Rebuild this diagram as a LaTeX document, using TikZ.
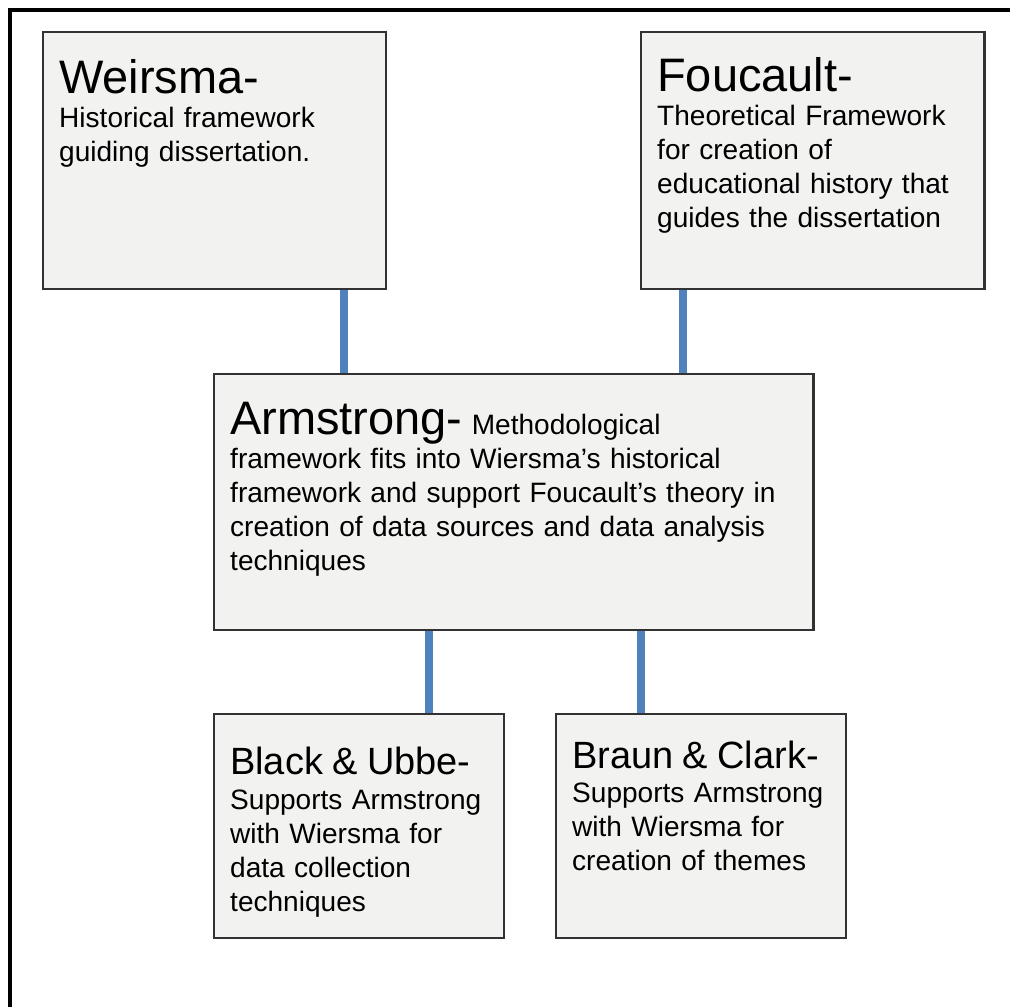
\documentclass[tikz,border=0pt]{standalone}
\usepackage{fontspec}
\setmainfont{Liberation Sans}
\usepackage{tikz}
\usetikzlibrary{positioning, calc}
\usepackage{xcolor}
\definecolor{linkblue}{RGB}{79,129,189}
\definecolor{boxfill}{RGB}{242,242,241}
\definecolor{boxline}{RGB}{50,50,50}
\newcommand{\bigname}[1]{{\fontsize{33.4}{40}\selectfont #1}}
\newcommand{\smallname}[1]{{\fontsize{27}{32}\selectfont #1}}

\begin{document}
\begin{tikzpicture}[x=0.025cm, y=-0.025cm,
    font=\fontsize{19.95}{24.2}\selectfont,
    card/.style={draw=boxline, fill=boxfill, line width=0.06cm, align=left,
                 anchor=north west, inner xsep=0.4cm, inner ysep=0pt},
    link/.style={draw=linkblue, line width=0.2cm}]
  \useasboundingbox (0,0) rectangle (1010,1006);
  % the frame round the page
  \draw[line width=0.08cm] (10,1010) -- (10,10) -- (1015,10);
  % top row
  \node[card, text width=7.775cm, text height=1.525cm, text depth=4.9cm]
    (weirsma) at (42,31)
    {\bigname{Weirsma-}\\
     Historical framework\\
     guiding dissertation.};
  \node[card, text width=7.775cm, text height=1.475cm, text depth=4.95cm]
    (foucault) at (640,31)
    {\bigname{Foucault-}\\
     Theoretical Framework\\
     for creation of\\
     educational history that\\
     guides the dissertation};
  % middle
  \node[card, text width=14.175cm, text height=1.5cm, text depth=4.9cm]
    (armstrong) at (213,373)
    {\bigname{Armstrong-} Methodological\\
     framework fits into Wiersma’s historical\\
     framework and support Foucault’s theory in\\
     creation of data sources and data analysis\\
     techniques};
  % bottom row
  \node[card, text width=6.45cm, text height=1.5cm, text depth=4.1cm]
    (black) at (213,713)
    {\smallname{Black \& Ubbe-}\\[1pt]
     Supports Armstrong\\
     with Wiersma for\\
     data collection\\
     techniques};
  \node[card, text width=6.45cm, text height=1.35cm, text depth=4.25cm]
    (braun) at (555,713)
    {\smallname{Braun \& Clark-}\\
     Supports Armstrong\\
     with Wiersma for\\
     creation of themes};
  % connectors
  \coordinate (w1) at ($(weirsma.south west)!.875!(weirsma.south east)$);
  \coordinate (f1) at ($(foucault.south west)!.125!(foucault.south east)$);
  \coordinate (b1) at ($(black.north west)!.738!(black.north east)$);
  \coordinate (c1) at ($(braun.north west)!.293!(braun.north east)$);
  \draw[link] (w1) -- (w1 |- armstrong.north);
  \draw[link] (f1) -- (f1 |- armstrong.north);
  \draw[link] (armstrong.south -| b1) -- (b1);
  \draw[link] (armstrong.south -| c1) -- (c1);
\end{tikzpicture}
\end{document}
